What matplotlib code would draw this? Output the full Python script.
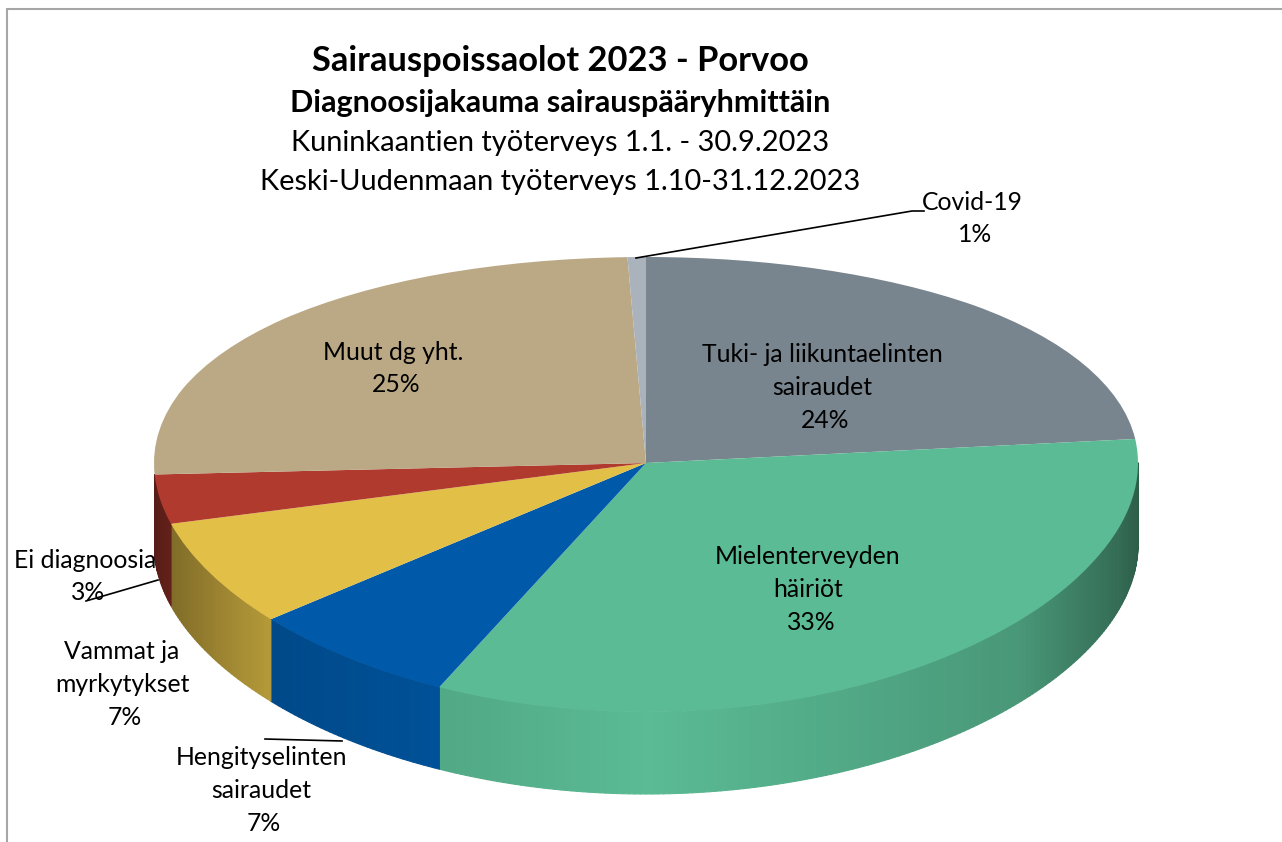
import numpy as np
import matplotlib
matplotlib.use("Agg")
import matplotlib.pyplot as plt
from matplotlib.transforms import Transform

# ---- data (clockwise from 12 o'clock)
categories = ["Tuki- ja liikuntaelinten\nsairaudet", "Mielenterveyden\nhäiriöt",
              "Hengityselinten\nsairaudet", "Vammat ja\nmyrkytykset",
              "Ei diagnoosia", "Muut dg yht.", "Covid-19"]
values = [23.3, 33.6, 6.9, 7.0, 3.4, 25.2, 0.6]
percent_labels = ["24%", "33%", "7%", "7%", "3%", "25%", "1%"]
colors = ["#78858E", "#5ABB94", "#005AA9", "#E2BF47", "#B03A2E", "#BBA985", "#AAB2BB"]

title_lines = ["Sairauspoissaolot 2023 - Porvoo", "Diagnoosijakauma sairauspääryhmittäin",
               "Kuninkaantien työterveys 1.1. - 30.9.2023",
               "Keski-Uudenmaan työterveys 1.10-31.12.2023"]

# ---- layout (pixels of the 1282x842 canvas)
CX, CY, RX = 646.0, 463.0, 492.0
R_BACK, R_FRONT, DEPTH = 206.0, 249.0, 82.0
FONT = "Lato"
label_pos = [(822, 387), (808, 589), (261, 790), (122, 684), (85, 576), (393, 368), (972, 218)]
leaders = [([636, 912, 924], [258, 211, 211]),
           ([158, 86], [580, 601]),
           ([265, 342], [739, 741])]
title_y = [62, 103, 142, 181]
title_size = [24.8, 22, 20.9, 20.9]
title_weight = ["bold", "bold", "normal", "normal"]
LINE_PITCH = 32.7
BASELINE = 8.0


class Tilted(Transform):
    """Tilted view of the unit pie onto the canvas; the front looks deeper than the back."""
    input_dims = output_dims = 2

    def transform_non_affine(self, xy):
        xy = np.asarray(xy, dtype=float)
        c = (R_BACK + R_FRONT) / 2
        d = (R_BACK - R_FRONT) / 2
        return np.column_stack([CX + RX * xy[:, 0],
                                CY - (c * xy[:, 1] + d * xy[:, 1] ** 2)])


def shade(px):
    r = abs(px - CX) / 492.0
    return np.interp(r, [0, .42, .76, .965, 1], [1, .9, .81, .57, .5])


fig = plt.figure(figsize=(12.82, 8.42), dpi=100)
ax = fig.add_axes([0, 0, 1, 1])

wedges, _ = ax.pie(values, colors=colors, startangle=90, counterclock=False,
                   wedgeprops=dict(linewidth=0))
base = Tilted()
for w in wedges:
    w.set_transform(base + ax.transData)
    w.set_zorder(3)

ax.set_aspect("auto")
ax.set_xlim(0, 1282)
ax.set_ylim(842, 0)
ax.axis("off")

# rim of the pie, shaded strip by strip; slices on the back half have none
edges = 90 - 3.6 * np.concatenate([[0], np.cumsum(values)])
top = base.transform_non_affine
for i, col in enumerate(colors):
    a0, a1 = edges[i], edges[i + 1]
    if np.sin(np.radians((a0 + a1) / 2)) > 0:
        continue
    ts = np.radians(np.linspace(a0, a1, max(2, int((a0 - a1) * 1.5))))
    rgb = np.array(matplotlib.colors.to_rgb(col))
    for t0, t1 in zip(ts[:-1], ts[1:]):
        if np.sin(t0) > 0 and np.sin(t1) > 0:
            continue
        p = top(np.array([[np.cos(t0), np.sin(t0)], [np.cos(t1), np.sin(t1)]]))
        xs = [p[0, 0], p[1, 0], p[1, 0], p[0, 0]]
        ys = [p[0, 1], p[1, 1], p[1, 1] + DEPTH, p[0, 1] + DEPTH]
        ax.fill(xs, ys, color=tuple(rgb * shade(p[:, 0].mean())), lw=0.8,
                joinstyle="round", zorder=2)

# frame
ax.plot([7, 7, 1282], [842, 9, 9], color="#A6A6A6", lw=1.5, zorder=1, solid_joinstyle="miter")

# leader lines
for lx, ly in leaders:
    ax.plot(lx, ly, color="black", lw=1.2, zorder=4)

# titles
for s, y, sz, wt in zip(title_lines, title_y, title_size, title_weight):
    ax.text(560, y + 9, s, ha="center", va="baseline", fontsize=sz, fontweight=wt,
            family=FONT, color="black", zorder=5)

# slice labels
for cat, pct, (x, y) in zip(categories, percent_labels, label_pos):
    lines = cat.split("\n")
    n = len(lines) + 1
    for j, s in enumerate(lines + [pct]):
        ax.text(x + (3 if j == n - 1 else 0), y + (j - (n - 1) / 2) * LINE_PITCH + BASELINE, s,
                ha="center", va="baseline", fontsize=17.8, family=FONT,
                color="black", zorder=5)

fig.savefig("out.png", dpi=100)
